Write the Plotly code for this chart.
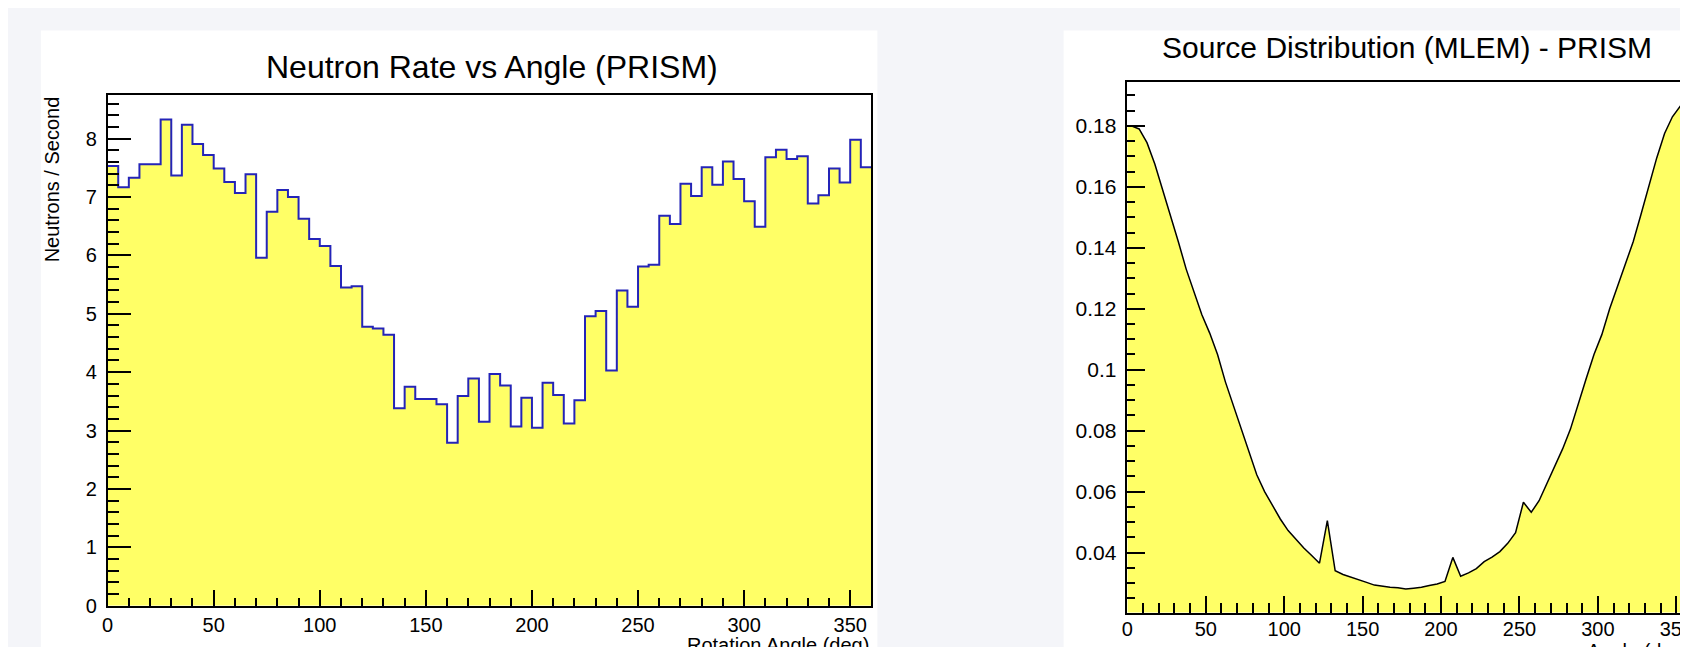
import plotly.graph_objects as go

W, H = 1688, 647

# ---------------- data ----------------
# Left: neutron rate histogram, 5-degree bins from 0 to 360
bin_width = 5
rate = [7.53, 7.17, 7.33, 7.56, 7.56, 8.33, 7.37, 8.24, 7.91, 7.72,
        7.49, 7.26, 7.07, 7.39, 5.96, 6.75, 7.12, 7.00, 6.63, 6.28,
        6.16, 5.82, 5.45, 5.47, 4.78, 4.75, 4.64, 3.38, 3.75, 3.54,
        3.54, 3.45, 2.79, 3.59, 3.89, 3.15, 3.97, 3.77, 3.07, 3.56,
        3.05, 3.82, 3.61, 3.12, 3.52, 4.96, 5.05, 4.03, 5.40, 5.12,
        5.81, 5.84, 6.68, 6.54, 7.23, 7.02, 7.51, 7.21, 7.61, 7.31,
        6.93, 6.49, 7.68, 7.81, 7.65, 7.70, 6.89, 7.03, 7.49, 7.25,
        7.98, 7.51]

# Right: MLEM source distribution at bin centres (2.5, 7.5, ... 357.5)
src = [0.1800, 0.1790, 0.1745, 0.1675, 0.1590, 0.1510, 0.1420, 0.1330, 0.1255, 0.1180,
       0.1120, 0.1050, 0.0960, 0.0885, 0.0810, 0.0730, 0.0655, 0.0600, 0.0555, 0.0510,
       0.0472, 0.0443, 0.0415, 0.0390, 0.0365, 0.0505, 0.0340, 0.0328, 0.0320, 0.0312,
       0.0302, 0.0293, 0.0289, 0.0286, 0.0284, 0.0280, 0.0283, 0.0286, 0.0292, 0.0297,
       0.0305, 0.0384, 0.0322, 0.0333, 0.0347, 0.0370, 0.0385, 0.0403, 0.0430, 0.0465,
       0.0565, 0.0532, 0.0570, 0.0625, 0.0680, 0.0740, 0.0805, 0.0890, 0.0970, 0.1050,
       0.1115, 0.1200, 0.1275, 0.1350, 0.1420, 0.1510, 0.1605, 0.1695, 0.1775, 0.1830,
       0.1865, 0.1870]

left_title = "Neutron Rate vs Angle (PRISM)"
right_title = "Source Distribution (MLEM) - PRISM"
left_xtitle = "Rotation Angle (deg)"
left_ytitle = "Neutrons / Second"
right_xtitle = "Angle (deg)"

x_ticks = [0, 50, 100, 150, 200, 250, 300, 350]
left_yticks = [0, 1, 2, 3, 4, 5, 6, 7, 8]
right_yticks = [0.04, 0.06, 0.08, 0.1, 0.12, 0.14, 0.16, 0.18]
right_yticklabels = ["0.04", "0.06", "0.08", "0.1", "0.12", "0.14", "0.16", "0.18"]

# ---------------- styling ----------------
FONT = "Liberation Sans, Arial, Helvetica, sans-serif"
YELLOW = "#ffff66"
BLUE = "#2424b8"
PAGE_BG = "#f4f5f9"

# frames in pixels (left, right, top, bottom)
LF = (94, 861, 89, 608)
RF = (1118, 1685, 75, 615)


def px_x(p):
    return p / W


def px_y(p):
    return 1 - p / H


fig = go.Figure()

# left histogram as step line
edges = [i * bin_width for i in range(len(rate) + 1)]
hx = edges
hy = rate + [rate[-1]]
fig.add_trace(go.Scatter(
    x=hx, y=hy, mode="lines", line=dict(shape="hv", color=BLUE, width=2),
    fill="tozeroy", fillcolor=YELLOW, xaxis="x", yaxis="y",
    hoverinfo="skip", showlegend=False))

# right curve through bin centres, extended flat to the frame edges
centers = [bin_width / 2 + i * bin_width for i in range(len(src))]
cx = [0] + centers + [360]
cy = [src[0]] + src + [src[-1]]
fig.add_trace(go.Scatter(
    x=cx, y=cy, mode="lines", line=dict(color="black", width=1.5),
    fill="tozeroy", fillcolor=YELLOW, xaxis="x2", yaxis="y2",
    hoverinfo="skip", showlegend=False))

tickfont = dict(family=FONT, size=20, color="black")

common_x = dict(
    range=[0, 360], tickmode="array", tickvals=x_ticks, ticks="inside",
    showgrid=False, zeroline=False, showline=True, linecolor="black",
    linewidth=1.5, mirror=True, tickcolor="black", tickwidth=1.5,
    tickfont=tickfont,
)

fig.update_layout(
    width=W, height=H,
    margin=dict(l=0, r=0, t=0, b=0),
    paper_bgcolor=PAGE_BG, plot_bgcolor="white",
    xaxis=dict(domain=[px_x(LF[0]), px_x(LF[1])], anchor="y", ticklen=16,
               ticklabelstandoff=1,
               minor=dict(dtick=10, ticklen=8, ticks="inside", tickcolor="black", tickwidth=1.5),
               **common_x),
    yaxis=dict(domain=[px_y(LF[3]), px_y(LF[2])], anchor="x", range=[0, 8.74],
               tickmode="array", tickvals=left_yticks, ticks="inside", ticklen=24,
               minor=dict(dtick=0.2, ticklen=12, ticks="inside", tickcolor="black", tickwidth=1.5),
               showgrid=False, zeroline=False, showline=True, linecolor="black",
               linewidth=1.5, mirror=True, tickcolor="black", tickwidth=1.5,
               tickfont=tickfont, ticklabelstandoff=5),
    xaxis2=dict(domain=[px_x(RF[0]), px_x(RF[1])], anchor="y2", ticklen=17,
                ticklabelstandoff=-2,
                minor=dict(dtick=10, ticklen=10, ticks="inside", tickcolor="black", tickwidth=1.5),
                **common_x),
    yaxis2=dict(domain=[px_y(RF[3]), px_y(RF[2])], anchor="x2", range=[0.0203, 0.1945],
                tickmode="array", tickvals=right_yticks, ticktext=right_yticklabels,
                ticks="inside", ticklen=18,
                minor=dict(tick0=0, dtick=0.005, ticklen=8, ticks="inside", tickcolor="black", tickwidth=1.5),
                showgrid=False, zeroline=False, showline=True, linecolor="black",
                linewidth=1.5, mirror=True, tickcolor="black", tickwidth=1.5,
                tickfont=dict(family=FONT, size=21, color="black"), ticklabelstandoff=5),
    shapes=[
        dict(type="rect", xref="paper", yref="paper", layer="below",
             x0=px_x(27), x1=px_x(867), y0=px_y(H + 5), y1=px_y(23),
             fillcolor="white", line=dict(width=0)),
        dict(type="rect", xref="paper", yref="paper", layer="below",
             x0=px_x(1054), x1=px_x(W + 5), y0=px_y(H + 5), y1=px_y(23),
             fillcolor="white", line=dict(width=0)),
    ],
    annotations=[
        dict(text=left_title, x=px_x(480), y=px_y(60), xref="paper", yref="paper",
             xanchor="center", yanchor="middle", showarrow=False,
             font=dict(family=FONT, size=32, color="black")),
        dict(text=right_title, x=px_x(1399), y=px_y(40), xref="paper", yref="paper",
             xanchor="center", yanchor="middle", showarrow=False,
             font=dict(family=FONT, size=30, color="black")),
        dict(text=left_ytitle, x=px_x(38), y=px_y(LF[2] - 1), xref="paper", yref="paper",
             xanchor="center", yanchor="top", textangle=-90, showarrow=False,
             font=dict(family=FONT, size=20, color="black")),
        dict(text=left_xtitle, x=px_x(LF[1]), y=px_y(635), xref="paper", yref="paper",
             xanchor="right", yanchor="top", showarrow=False,
             font=dict(family=FONT, size=20, color="black")),
        dict(text=right_xtitle, x=px_x(RF[1]), y=px_y(641), xref="paper", yref="paper",
             xanchor="right", yanchor="top", showarrow=False,
             font=dict(family=FONT, size=20, color="black")),
    ],
)

fig.write_html("out.html")
